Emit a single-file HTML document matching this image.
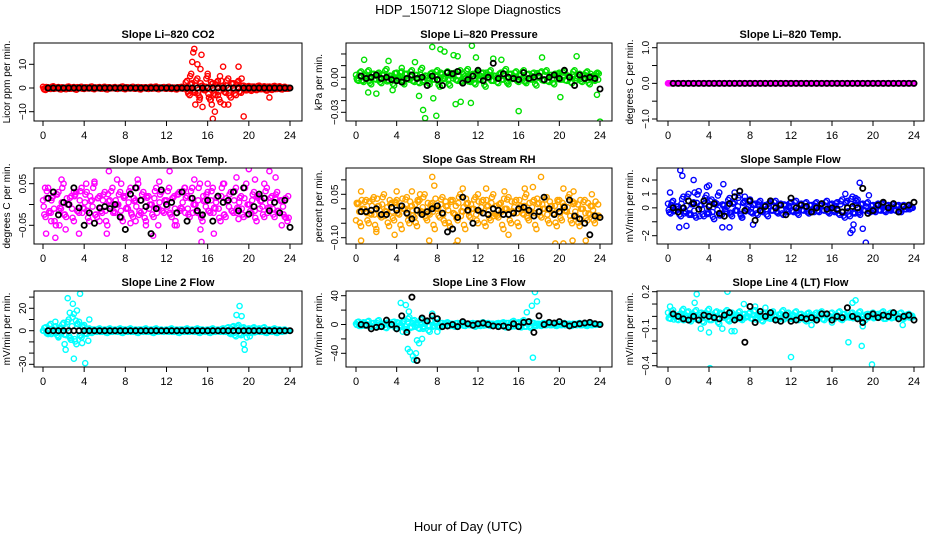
<!DOCTYPE html>
<html><head><meta charset="utf-8"><style>
body{margin:0;background:#fff;}
svg{display:block;font-family:"Liberation Sans",Arial,sans-serif;}
</style></head><body>
<svg id="chart" width="936" height="540" viewBox="0 0 936 540">
<text x="468" y="14" text-anchor="middle" font-size="13">HDP_150712  Slope Diagnostics</text>
<text x="468" y="531" text-anchor="middle" font-size="13">Hour of Day (UTC)</text>
</svg>
<script>
const hourTicks=[0,4,8,12,16,20,24];
const co2Band=[0.5,-0.8,0.3,-0.4,0.7,-0.2,0.4,-0.6,0.2,-0.5,0.6,-0.3,0.4,-0.7,0.1,0.5,-0.4,0.3,-0.2,0.6,-0.5,0.2,0.4,-0.3,0.5,-0.6,0.3,-0.1,0.4,-0.4,0.2,0.6,-0.5,0.3,-0.2,0.5,-0.3,0.4,-0.6,0.2,0.3,-0.4,0.5,-0.2,0.6,-0.5,0.1,0.4,-0.3,0.5,-0.4,0.2,-0.6,0.3,0.5,-0.2,3,-3,2,-2,4,-4,1,-1,5,-5,2,-3,3,-6,1,-2,4,-4,2,-3,3,-2,1,-1,0.8,-1.2,0.6,-0.9,1,-0.5,0.7,-1.1,0.6,-0.8,0.9,-0.4,0.7,-0.6,0.5,-0.3];
const co2Out=[[14.6,15],[14.7,16.5],[14.5,11],[15.4,14],[15,10],[15.3,8],[14.3,5],[14.4,6],[16,6],[16.5,-13],[17.5,9],[17.6,-7],[18,-7],[19,9],[19.5,-12],[22,-4],[15.5,-8],[14.8,-7],[16.3,-5],[16.7,-10],[17.2,5],[19.3,4],[16.4,-7],[15.2,-5],[17,-3]];
const co2Black=[0,0,0,0,0,0,0,0,0,0,0,0,0,0,0,0,0,0,0,0,0,0,0,0,0,0,0,0,0,0,0,0,0,0,0,0,0,0,0,0,0,0,0,0,0,0,0,0];
const presBand=[2,-3,5,-4,1,6,-6,3,-2,4,-5,2,7,-3,1,-7,4,-1,5,-6,3,-2,6,-4,2,-5,8,-3,1,-6,4,-2,6,-8,3,-1,5,-7,2,4,-3,6,-5,1,7,-4,3,-6,5,-2,4,-8,2,6,-3,1,-5,4,-2,7,-6,3,-1,5,-4,2,6,-5,3,-2,4,-7,1,5,-3,6,-4,2,-6,3,4,-2,5,-3,1,-5,6,-1,3,-4,2,5,-6,1,-3,4].map(v=>v*0.001);
const presOut=[[0.8,0.015],[1.2,-0.013],[2,-0.014],[3.2,0.014],[3.6,-0.011],[4.5,0.008],[6.6,-0.028],[6.8,-0.035],[7.5,0.026],[7.6,-0.018],[7.9,-0.033],[8.3,0.024],[8.7,0.022],[9.8,-0.023],[10,0.018],[10.3,-0.021],[11.3,-0.022],[11.4,0.027],[11.8,0.017],[13.5,0.016],[14.3,0.015],[16,-0.029],[18.3,0.017],[20.1,-0.017],[21.7,0.018],[23.7,-0.015],[24,-0.038],[6.2,-0.016],[9.6,0.019],[5.8,0.013]];
const presBlack=[1,-1,0,2,-1,0,-2,-3,-4,-1,2,-1,0,-7,1,-2,-7,4,3,5,-5,-2,1,6,-3,0,12,-1,3,0,-1,-2,4,-1,0,1,-2,0,2,-1,6,0,-7,2,-1,0,-1,-10].map(v=>v*0.001);
const tempBand=new Array(96).fill(0);
const tempBlack=new Array(48).fill(0);
const ambBand=[1,-3,4,-2,2,-5,3,-1,5,-3,0,2,-4,3,-2,4,-1,3,-4,1,5,-3,2,-2,3,-5,1,4,-2,0,3,-4,2,-1,4,-3,1,5,-2,3,-4,2,0,-3,4,-1,3,-2,1,4,-3,2,-5,3,-1,4,2,-3,4,0,-2,5,-4,1,3,-2,4,-1,2,-4,5,-3,1,3,-2,4,-1,2,-3,5,0,-2,3,-4,2,1,-3,4,-1,2,-3,3,-2,1,-3,-4].map(v=>v*0.01);
const ambOut=[[0.3,-0.07],[0.8,-0.04],[1.2,-0.08],[1.8,0.06],[1.6,-0.05],[2.2,-0.06],[3.5,-0.07],[4.2,0.05],[5,0.055],[6.2,-0.07],[6.4,0.08],[7.2,0.06],[7.6,0.05],[9.2,0.06],[10,-0.05],[10.7,-0.075],[11.3,0.055],[11.2,-0.05],[12.3,0.08],[12.8,-0.05],[14.7,0.06],[15.3,-0.06],[15.4,-0.09],[16.6,-0.07],[17.6,0.05],[18.8,0.065],[20,0.085],[20.6,0.06],[21.5,0.05],[22,0.08],[22.6,0.065],[23.2,-0.05],[16,0.05],[13.8,0.04],[5.5,-0.04],[8.5,-0.045],[0.2,0.04],[3,0.03],[9,-0.04],[19,-0.035]];
const ambBlack=[1.5,3,-2.5,0.5,0,4,-0.8,-5,-2,-4.5,-0.8,-0.5,-1,0,-3,-6,2.5,4,1,-0.5,-7,-1,3.5,0,0.5,-2,3,-4,1.5,-1.5,-2.5,1,-4,2,0.5,1,3,-1.5,4,-2.3,-0.5,2.5,1.5,-1.5,0.5,-2,1,-5.5].map(v=>v*0.01);
const rhBand=[-4,2,-6,0,3,-5,-2,4,-7,1,-3,5,-1,-6,2,-4,3,-2,-7,0,4,-5,1,-3,-6,3,-1,5,-4,-2,2,-7,0,-3,4,-5,1,-6,3,-2,-4,5,-1,-7,2,-3,0,4,-5,-1,3,-6,1,-4,5,-2,-3,2,-7,0,4,-5,-1,3,-6,1,-2,5,-4,-1,3,-7,2,-3,0,4,-5,1,-2,-6,3,-4,1,-1,5,-5,2,-3,-6,0,3,-4,-2,1,-5,-3].map(v=>v*0.01);
const rhOut=[[0.5,-0.11],[0.5,0.06],[4,0.06],[5.5,0.06],[7.5,0.11],[7.7,0.08],[7.4,-0.13],[7.2,-0.11],[9.8,-0.125],[10,-0.11],[10.5,0.07],[12.8,0.07],[14.6,0.06],[16.6,0.07],[17.4,0.075],[18.2,0.11],[19.6,-0.12],[20.4,0.07],[20.4,-0.12],[21.3,-0.11],[21.4,0.06],[22.6,-0.11],[23.2,0.05],[3.8,-0.09],[6.3,0.05],[2,-0.08],[12,0.05],[15,-0.09]];
const rhBlack=[-1,-1,-0.5,0,-2,-2,0.5,-0.5,1,-1.5,-3.5,-0.5,-2,-1,0,1,-1.5,-8,-7,-3,4,-0.5,-5,-0.5,-1.5,-2,0,-0.5,-2,-2,-1.5,0,0.5,-0.5,-2.5,-1,4,0,-2,-1,0.5,3,-2.5,-3.5,-5,-9,-2.5,-3].map(v=>v*0.01);
const flowBand=[0.3,-0.4,0.5,-0.2,0.1,-0.6,0.8,-0.3,1,-0.5,0.4,-0.7,1.2,0.2,-0.6,0.9,-0.4,0.6,-0.8,0.3,1.1,-0.5,0.2,-0.3,0.7,-0.6,0.4,-0.2,0.9,-0.7,0.5,-0.1,0.6,-0.4,0.3,-0.5,0.5,-0.3,0.2,-0.6,0.4,-0.2,0.5,-0.4,0.3,-0.5,0.2,-0.3,0.4,-0.3,0.5,-0.5,0.3,-0.2,0.4,-0.4,0.2,-0.3,0.4,-0.3,0.3,-0.2,0.5,-0.4,0.3,-0.3,0.4,-0.5,0.6,-0.7,0.5,-0.6,0.8,-0.4,0.6,-0.5,0.3,-0.2,0.4,-0.3,0.2,-0.3,0.3,-0.2,0.3,-0.3,0.2,-0.2,0.3,-0.2,0.2,-0.3,0.2,-0.1,0.2,0];
const flowOut=[[1.2,2.7],[1.4,2.3],[1.1,-1.4],[1.8,-1.3],[2.5,2],[2.6,1.1],[3.8,1.5],[4,1.6],[5.4,1.7],[5.3,-1.4],[6,-1.4],[6.5,1.1],[8.3,-1.2],[7.5,0.8],[17.3,1],[17.8,-1.8],[18,-1.6],[18.1,-1.2],[18.7,1.8],[19,-1.5],[19.3,-2.5],[19.6,0.9],[18.3,0.7],[0.2,1.1],[4.5,-0.8],[7.2,-0.7]];
const flowBlack=[0,-0.3,0,0.5,0.3,-0.1,0.5,0.1,0.3,-0.4,-0.6,0.3,0.8,1.2,-0.2,0.5,-0.9,-0.2,0.1,0.5,0,0.2,-0.5,0.7,0,0.2,0.1,-0.3,0,0.3,-0.1,0,-0.1,-0.3,0,0.1,0,1.4,-0.4,-0.2,0.2,0.4,0,0.3,-0.3,0.1,0.2,0.4];
const l2Band=[0,3,-3,6,-2,4,-5,2,7,-4,10,-8,15,-12,8,-6,5,-3,2,-2,1,-1,2,-1,1,-2,2,-1,1,-1,2,-2,1,-1,2,-1,1,-2,1,-1,2,-1,1,-2,2,-1,1,-1,1,-1,2,-1,1,-2,1,-1,2,-1,1,-1,2,-2,1,-1,1,-2,2,-1,1,-1,2,-1,3,-3,4,-5,5,-4,3,-2,2,-2,3,-1,2,-1,3,-2,1,-1,2,-2,1,-1,1,0];
const l2Out=[[2.4,29],[2.6,16],[2.9,24],[3.3,18],[3.6,33],[3,-25],[2.1,-12],[2.2,-17],[2.7,-8],[3.8,-11],[4.1,-29],[4.4,-9],[3.2,9],[4.5,10],[1.2,8],[19.1,22],[19.3,13],[18.8,14],[19.5,-12],[19.6,-17],[19.8,-6],[20.1,-5],[1.5,-6]];
const l2Black=new Array(48).fill(0);
const l3Band=[1,4,-2,3,-1,5,-3,2,-4,6,-2,1,-5,3,-1,4,-6,2,-3,5,-8,10,-4,6,2,-6,8,-3,4,-10,6,-2,3,-4,2,-1,3,-2,1,-3,2,-1,3,-2,1,-1,2,-3,1,-2,3,-1,2,-2,1,-1,2,-2,3,-4,2,-3,5,-2,3,-4,6,-3,4,-5,2,-2,1,-2,2,-1,2,-1,1,-2,1,-1,2,-1,1,-2,1,-1,2,-1,1,-2,1,-1,1,0];
const l3Out=[[4.4,30],[4.9,27],[5.2,18],[5.1,-34],[5.3,-38],[5.6,-44],[5.9,-40],[5.7,-49],[6,-22],[6.2,-26],[6.5,-20],[4.6,-10],[7.5,15],[7.9,8],[16.8,17],[17.3,26],[17.6,45],[17.8,32],[17.4,-46],[6.6,-6],[8,-10]];
const l3Black=[0,-1,-6,-4,-3,6,0,-6,12,-11,38,-50,9,5,12,8,-3,-2,0,-3,4,1,-1,1,2,0,-2,-3,-2,-4,1,-3,3,4,-11,12,0,3,2,4,1,-2,0,1,2,3,1,0];
const l4Band=[3,-2,5,0,-3,2,6,-1,4,-4,1,5,-2,3,-5,2,6,-3,0,4,-6,2,-1,5,-4,3,1,-2,4,-3,2,0,3,-2,5,-1,2,-4,3,1,-2,4,0,-3,2,5,-1,3,-2,1,4,-3,2,0,-4,3,1,-2,3,-1,4,-3,2,0,3,-2,1,4,-3,2,0,-1,3,1,-2,4,0,-3,2,1,3,-1,2,0,4,-2,1,3,-1,2,0,3,-2,1,2,-1].map(v=>v*0.01);
const l4Out=[[0.2,0.08],[2.8,0.18],[2.6,0.11],[3.2,-0.1],[4,-0.13],[4.1,-0.42],[5.3,-0.1],[5.8,0.2],[6.2,-0.12],[6.5,-0.12],[7.4,0.1],[8.5,0.08],[12,-0.33],[14,-0.07],[16,-0.05],[17.6,-0.21],[18,0.11],[18.3,0.13],[18.9,-0.24],[19.9,-0.39],[19,-0.08],[22.9,-0.07],[1.5,-0.03],[9.5,0.07]];
const l4Black=[2,0,-2,-3,0,-3,1,0,-1,-2,1,3,-3,-1,-21,8,-5,4,0,3,-3,-4,1,-4,-3,-1,-2,-1,-3,2,2,-3,0,-1,7,0,-2,-5,0,2,-1,1,0,3,-2,0,1,-3].map(v=>v*0.01);

const cols=[{l:34,r:302,x0:43,x24:290},{l:346,r:612,x0:356,x24:600},{l:657,r:924,x0:668,x24:914}];
const rows=[{t:43,b:121},{t:168,b:244},{t:291,b:367}];
const panels=[
{name:'co2',title:'Slope Li\u2013820 CO2',ylab:'Licor ppm per min.',c:0,r:0,col:'#ff0000',band:co2Band,out:co2Out,blk:co2Black,ref:[10,64.3,-10,111.7],ticks:[-10,0,10],labs:['\u221210','0','10']},
{name:'pressure',title:'Slope Li\u2013820 Pressure',ylab:'kPa per min.',c:1,r:0,col:'#00e000',band:presBand,out:presOut,blk:presBlack,ref:[0,77.3,-0.03,112.3],ticks:[-0.03,-0.02,-0.01,0,0.01,0.02],labs:['\u22120.03','','','0.00','','']},
{name:'li-temp',title:'Slope Li\u2013820 Temp.',ylab:'degrees C per min.',c:2,r:0,col:'#ff00ff',band:tempBand,out:[],blk:tempBlack,ref:[1,47.7,-1,119],ticks:[-1,-0.5,0,0.5,1],labs:['\u22121.0','','0.0','','1.0']},
{name:'amb-temp',title:'Slope Amb. Box Temp.',ylab:'degrees C per min.',c:0,r:1,col:'#ff00ff',band:ambBand,out:ambOut,blk:ambBlack,ref:[0.05,183.7,-0.05,225.3],ticks:[-0.05,0,0.05],labs:['\u22120.05','','0.05']},
{name:'gas-rh',title:'Slope Gas Stream RH',ylab:'percent per min.',c:1,r:1,col:'#ffa500',band:rhBand,out:rhOut,blk:rhBlack,ref:[0.05,194.3,-0.10,237.7],ticks:[-0.1,-0.05,0,0.05,0.1],labs:['\u22120.10','','','0.05','']},
{name:'sample-flow',title:'Slope Sample Flow',ylab:'mV/min per min.',c:2,r:1,col:'#0000ff',band:flowBand,out:flowOut,blk:flowBlack,ref:[2,180,-2,235.7],ticks:[-2,-1,0,1,2],labs:['\u22122','','0','1','2']},
{name:'line2-flow',title:'Slope Line 2 Flow',ylab:'mV/min per min.',c:0,r:2,col:'#00ffff',band:l2Band,out:l2Out,blk:l2Black,ref:[20,308.3,-30,364.3],ticks:[-30,-20,-10,0,10,20,30],labs:['\u221230','','','0','','20','']},
{name:'line3-flow',title:'Slope Line 3 Flow',ylab:'mV/min per min.',c:1,r:2,col:'#00ffff',band:l3Band,out:l3Out,blk:l3Black,ref:[40,295.7,-40,353.3],ticks:[-40,-20,0,20,40],labs:['\u221240','','0','','40']},
{name:'line4-flow',title:'Slope Line 4 (LT) Flow',ylab:'mV/min per min.',c:2,r:2,col:'#00ffff',band:l4Band,out:l4Out,blk:l4Black,ref:[0.2,291.7,-0.4,365.7],ticks:[-0.4,-0.3,-0.2,-0.1,0,0.1,0.2],labs:['\u22120.4','','','\u22120.1','','','0.2']}
];
const NS='http://www.w3.org/2000/svg';
const svg=document.getElementById('chart');
function mk(tag,attrs,parent){const e=document.createElementNS(NS,tag);for(const k in attrs)e.setAttribute(k,attrs[k]);(parent||svg).appendChild(e);return e;}
panels.forEach((p,pi)=>{
  const C=cols[p.c],R=rows[p.r];
  const xs=v=>C.x0+(C.x24-C.x0)*v/24;
  const ys=v=>p.ref[1]+(v-p.ref[0])*(p.ref[3]-p.ref[1])/(p.ref[2]-p.ref[0]);
  const g=mk('g',{});
  
  
  const cp=mk('clipPath',{id:'cp'+pi},g);
  mk('rect',{x:C.l,y:R.t,width:C.r-C.l,height:R.b-R.t},cp);
  const t=mk('text',{x:(C.l+C.r)/2,y:R.t-5,'text-anchor':'middle','font-size':'11','font-weight':'bold'},g);
  t.textContent=p.title;
  
  
  const yl=mk('text',{transform:`translate(${C.l-24},${(R.t+R.b)/2}) rotate(-90)`,'text-anchor':'middle','font-size':'10'},g);
  yl.textContent=p.ylab;
  
  
  const pts=mk('g',{'clip-path':`url(#cp${pi})`,fill:'none'},g);
  
  
  const n=p.band.length;
  p.band.forEach((v,i)=>{
    const c=mk('circle',{cx:xs(i*0.25),cy:ys(v),r:2.6,stroke:p.col,'stroke-width':1.4},pts);
    
    
    const c2=mk('circle',{cx:xs(i*0.25+0.125),cy:ys(p.band[Math.min(i+1,n-1)]*0.8),r:2.6,stroke:p.col,'stroke-width':1.4},pts);
    
    
    const c3=mk('circle',{cx:xs(i*0.25+0.07),cy:ys(-v*0.5),r:2.6,stroke:p.col,'stroke-width':1.4},pts);
    
    
  });
  p.out.forEach(d=>{
    const c=mk('circle',{cx:xs(d[0]),cy:ys(d[1]),r:2.6,stroke:p.col,'stroke-width':1.4},pts);
    
    
  });
  p.blk.forEach((v,i)=>{
    const c=mk('circle',{cx:xs(i*0.5+0.5),cy:ys(v),r:2.6,stroke:'#000','stroke-width':1.8},pts);
    
    
  });
  const box=mk('rect',{x:C.l,y:R.t,width:C.r-C.l,height:R.b-R.t,fill:'none',stroke:'#000','stroke-width':1},g);
  
  
  const ax=mk('g',{},g);
  
  
  hourTicks.forEach(h=>{
    mk('line',{x1:xs(h),x2:xs(h),y1:R.b,y2:R.b+5,stroke:'#000'},ax);
    const tl=mk('text',{x:xs(h),y:R.b+18,'text-anchor':'middle','font-size':'11'},ax);
    tl.textContent=h;
  });
  const ay=mk('g',{},g);
  
  
  p.ticks.forEach((v,i)=>{
    const y=ys(v);
    mk('line',{x1:C.l,x2:C.l-5,y1:y,y2:y,stroke:'#000'},ay);
    if(p.labs[i]){
      const tl=mk('text',{transform:`translate(${C.l-8},${y}) rotate(-90)`,'text-anchor':'middle','font-size':'10'},ay);
      tl.textContent=p.labs[i];
    }
  });
});
</script>
</body></html>
